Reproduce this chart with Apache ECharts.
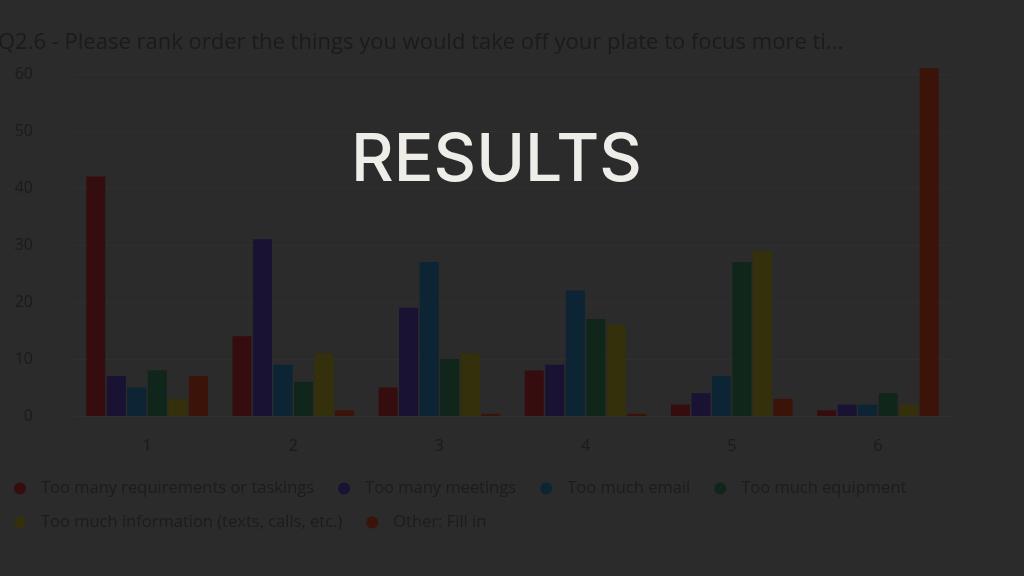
<!DOCTYPE html>
<html>
<head>
<meta charset="utf-8">
<script src="https://cdn.jsdelivr.net/npm/echarts@6/dist/echarts.min.js"></script>
<style>
html,body{margin:0;padding:0;background:#2b2b2b;}
#c{width:1024px;height:576px;}
</style>
</head>
<body>
<div id="c"></div>
<script>
const categories = ['1','2','3','4','5','6'];
const seriesNames = ['Too many requirements or taskings','Too many meetings','Too much email','Too much equipment','Too much information (texts, calls, etc.)','Other: Fill in'];
const requirements = [42, 14, 5, 8, 2, 1];
const meetings = [7, 31, 19, 9, 4, 2];
const email = [5, 9, 27, 22, 7, 2];
const equipment = [8, 6, 10, 17, 27, 4];
const information = [3, 11, 11, 16, 29, 2];
const other = [7, 1, 0.4, 0.4, 3, 61];
const yTicks = [0, 10, 20, 30, 40, 50, 60];
const colors = ['#360d0f', '#1a1232', '#0c2434', '#10261a', '#33300b', '#3b1309'];

const values = [requirements, meetings, email, equipment, information, other];
const legendText = {color: '#1c1c1c', fontSize: 16.5, fontFamily: 'Open Sans', padding: [0, 0, 0, 10]};
const chart = echarts.init(document.getElementById('c'));
chart.setOption({
  backgroundColor: '#2b2b2b',
  animation: false,
  color: colors,
  title: [
    {
      text: 'Q2.6 - Please rank order the things you would take off your plate to focus more ti...',
      left: -7, top: 27,
      textStyle: {color: '#1b1b1b', fontSize: 22, fontWeight: 'normal', fontFamily: 'Open Sans'}
    },
    {
      text: 'RESULTS',
      left: 346, top: 123,
      textStyle: {color: '#eeede8', fontSize: 66, fontWeight: 500, fontFamily: 'Inter'}
    }
  ],
  legend: [
    {
      left: 9, top: 475, itemWidth: 12, itemHeight: 12, itemGap: 24,
      icon: 'circle', textStyle: legendText,
      data: seriesNames.slice(0, 4)
    },
    {
      left: 9, top: 509, itemWidth: 12, itemHeight: 12, itemGap: 24,
      icon: 'circle', textStyle: legendText,
      data: seriesNames.slice(4)
    }
  ],
  grid: {left: 74, right: 73, top: 74, bottom: 160},
  xAxis: {
    type: 'category', data: categories,
    axisLine: {show: true, lineStyle: {color: '#303030'}},
    axisTick: {show: false},
    axisLabel: {color: '#1b1b1b', fontSize: 16, margin: 22, fontFamily: 'Open Sans'}
  },
  yAxis: {
    type: 'value', min: 0, max: 60, interval: 10,
    axisLabel: {color: '#1b1b1b', fontSize: 16, margin: 41, fontFamily: 'Open Sans',
      formatter: v => yTicks.includes(v) ? String(v) : ''},
    splitLine: {lineStyle: {color: '#2f2f2f'}},
    axisLine: {show: false}, axisTick: {show: false}
  },
  series: seriesNames.map((n, i) => ({
    name: n, type: 'bar', data: values[i],
    barWidth: 19, barGap: '8%', clip: false,
    itemStyle: {color: colors[i]}
  }))
});
</script>
</body>
</html>
